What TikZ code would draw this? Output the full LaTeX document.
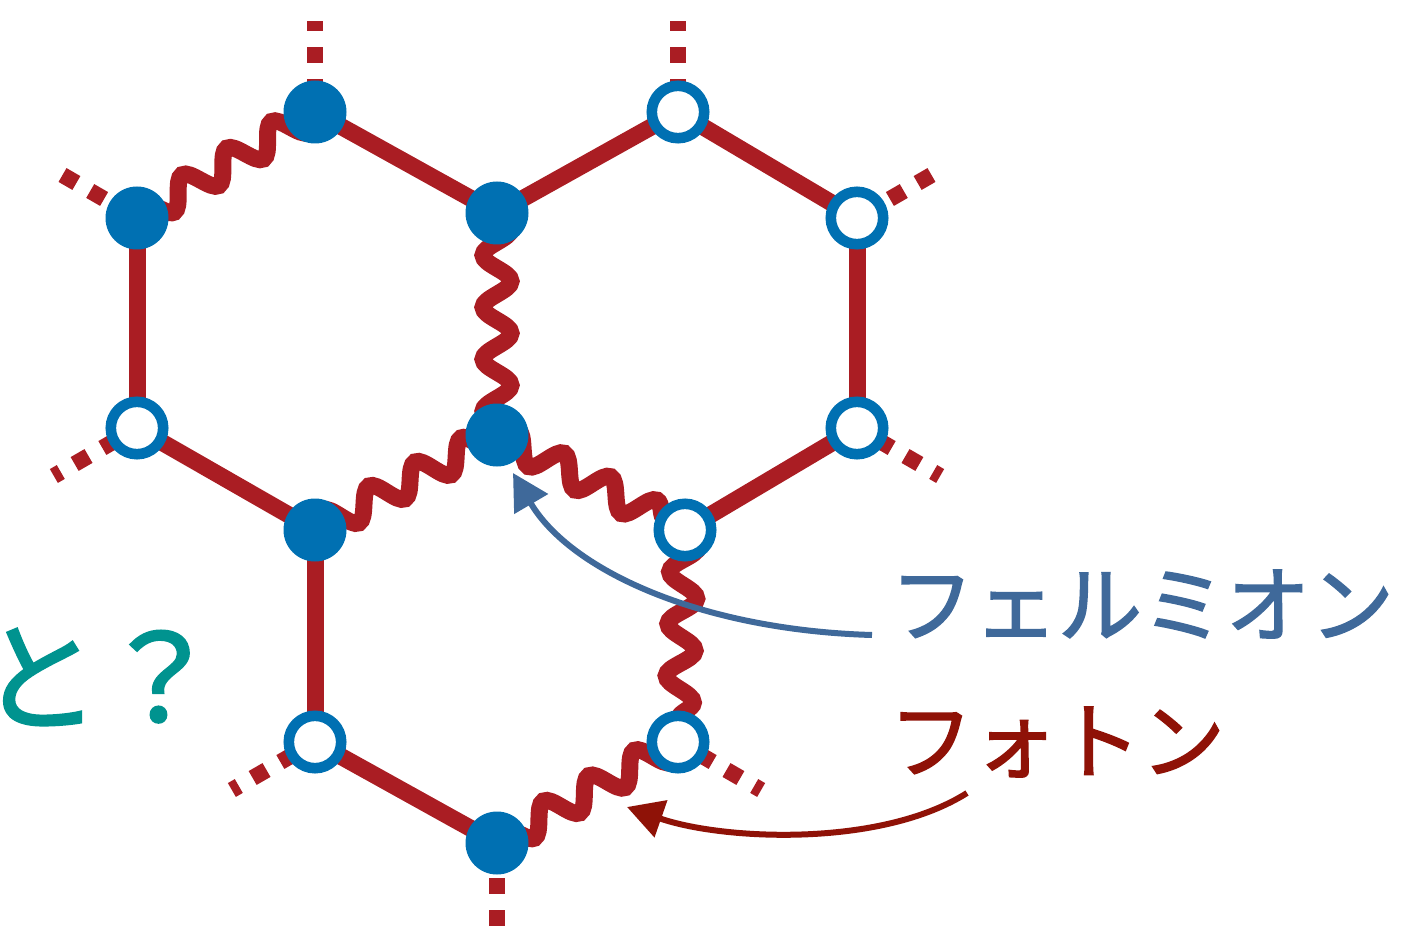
\documentclass[tikz,border=0pt]{standalone}
\usepackage{fontspec}
\newfontfamily\jp{Noto Sans CJK JP}[FakeBold=2]
\usetikzlibrary{decorations.pathmorphing,arrows.meta}
\pgfdeclarelayer{bg}
\pgfsetlayers{bg,main}
\definecolor{edgered}{HTML}{AA1D23}
\definecolor{nodeblue}{HTML}{0070B2}
\definecolor{fermblue}{HTML}{3F699A}
\definecolor{photred}{HTML}{8F1207}
\definecolor{tealq}{HTML}{00938F}
\begin{document}
\begin{tikzpicture}[x=0.5pt,y=-0.5pt,
  fnode/.style={circle,fill=nodeblue,inner sep=0pt,minimum size=31.5pt},
  onode/.style={circle,draw=nodeblue,fill=white,line width=5.3pt,inner sep=0pt,minimum size=26.2pt},
  bond/.style={draw=edgered,line width=8.5pt},
  wavy/.style={draw=edgered,line width=8.5pt,decorate,decoration={snake,segment length=26pt,amplitude=7pt}},
  stubline/.style={draw=edgered,line width=8pt,dash pattern=on 8pt off 8pt},
  lbl/.style={font=\jp\fontsize{42}{42}\selectfont,inner sep=0pt},
  fermarrow/.style={draw=fermblue,line width=3pt,-{Triangle[length=18pt,width=19pt]}},
  photarrow/.style={draw=photred,line width=3pt,-{Triangle[length=18pt,width=19pt]}}
]
\useasboundingbox (0,0) rectangle (1408,936);
\clip (0,0) rectangle (1408,936);

% nodes
\node[fnode] (A) at (315,112) {};
\node[fnode] (B) at (137,218) {};
\node[fnode] (C) at (497,213) {};
\node[onode] (D) at (678,112) {};
\node[onode] (E) at (857,218) {};
\node[onode] (F) at (137,428) {};
\node[fnode] (G) at (497,435) {};
\node[onode] (H) at (857,428) {};
\node[fnode] (I) at (315,530) {};
\node[onode] (J) at (685,530) {};
\node[onode] (K) at (315,742) {};
\node[onode] (L) at (678,742) {};
\node[fnode] (M) at (497,843) {};

\begin{pgfonlayer}{bg}
% straight bonds
\draw[bond] (A.center) -- (C.center);
\draw[bond] (C.center) -- (D.center);
\draw[bond] (D.center) -- (E.center);
\draw[bond] (B.center) -- (F.center);
\draw[bond] (E.center) -- (H.center);
\draw[bond] (F.center) -- (I.center);
\draw[bond] (H.center) -- (J.center);
\draw[bond] (I.center) -- (K.center);
\draw[bond] (K.center) -- (M.center);
% wavy bonds
\draw[wavy] (A.center) -- (B.center);
\draw[wavy] (C.center) -- (G.center);
\draw[wavy] (I.center) -- (G.center);
\draw[wavy] (G.center) -- (J.center);
\draw[wavy] (J.center) -- (L.center);
\draw[wavy] (L.center) -- (M.center);
% dashed stubs
\draw[stubline,dash phase=7.5pt] (A.center) -- ++(90:45.5pt);
\draw[stubline,dash phase=7.5pt] (D.center) -- ++(90:45.5pt);
\draw[stubline,dash phase=13pt] (B.center) -- ++(150:43pt);
\draw[stubline,dash phase=13pt] (E.center) -- ++(30:43pt);
\draw[stubline,dash phase=4pt] (F.center) -- ++(210:48pt);
\draw[stubline,dash phase=4pt] (H.center) -- ++(330:48pt);
\draw[stubline,dash phase=4pt] (K.center) -- ++(210:48pt);
\draw[stubline,dash phase=4pt] (L.center) -- ++(330:48pt);
\draw[stubline,dash phase=14.5pt] (M.center) -- ++(270:41.5pt);
\end{pgfonlayer}

% labels
\node[lbl,text=fermblue] (ferm) at (1142,604) {フェルミオン};
\node[lbl,text=photred] (phot) at (1057,742) {フォトン};
\node[font=\jp\fontsize{60}{60}\selectfont,text=tealq,inner sep=0pt] (q) at (100,677) {と？};

% arrows
\coordinate (fs) at (872,635);
\coordinate (ft) at (513,473);
\draw[fermarrow] (fs) .. controls (700,630) and (570,570) .. (ft);
\coordinate (ps) at (967,793);
\coordinate (pt) at (627,807);
\draw[photarrow] (ps) .. controls (880,848) and (722,840) .. (pt);
\end{tikzpicture}
\end{document}
